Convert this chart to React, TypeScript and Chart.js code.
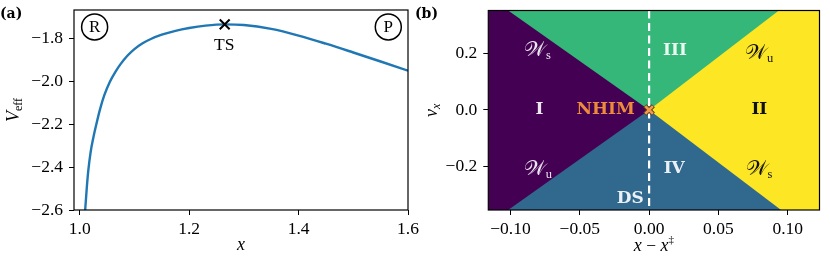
import React, { useEffect, useRef } from 'react';
import { Chart, registerables } from 'chart.js';

Chart.register(...registerables);

// ---------- Panel (a): effective potential ----------
const CURVE_X = [1.007, 1.010, 1.013, 1.016, 1.020, 1.025, 1.030, 1.037, 1.045, 1.055, 1.065, 1.075, 1.088, 1.100, 1.115, 1.130, 1.150, 1.175, 1.200, 1.230, 1.265, 1.300, 1.350, 1.400, 1.450, 1.500, 1.550, 1.600];
const CURVE_V = [-2.720, -2.600, -2.495, -2.410, -2.330, -2.262, -2.205, -2.132, -2.065, -2.003, -1.957, -1.919, -1.879, -1.850, -1.823, -1.803, -1.783, -1.765, -1.752, -1.741, -1.735, -1.738, -1.756, -1.787, -1.825, -1.866, -1.908, -1.951];
const TS_X = [1.265];
const TS_V = [-1.735];
const A_X_RANGE = [0.9896, 1.6];
const A_Y_RANGE = [-2.6, -1.668];
const A_X_TICKS = [1.0, 1.2, 1.4, 1.6];
const A_Y_TICKS = [-2.6, -2.4, -2.2, -2.0, -1.8];

// ---------- Panel (b): phase-space regions ----------
const B_X_RANGE = [-0.116, 0.1229];
const B_Y_RANGE = [-0.355, 0.353];
const B_X_TICKS = [-0.1, -0.05, 0, 0.05, 0.1];
const B_Y_TICKS = [-0.2, 0, 0.2];
const UPPER_EDGE_X = [-0.1017, 0, 0.0936];
const UPPER_EDGE_V = [0.353, 0, 0.353];
const LOWER_EDGE_X = [-0.1017, 0, 0.0952];
const LOWER_EDGE_V = [-0.355, 0, -0.355];
const NHIM_X = [0];
const NHIM_V = [0];
const DS_X = [0, 0];
const DS_V = [0.353, -0.355];

const C_PURPLE = '#440154';
const C_BLUE = '#31688e';
const C_GREEN = '#35b779';
const C_YELLOW = '#fde725';
const C_ORANGE = '#ec8b3c';

const SERIF = "'Liberation Serif', 'DejaVu Serif', serif";
const BSERIF = "'DejaVu Serif', 'Liberation Serif', serif";
const SCRIPT = "'DejaVu Serif', 'DejaVu Sans', 'Noto Sans', serif";

type Part = { t: string; font: string; dy?: number };

function drawParts(ctx: CanvasRenderingContext2D, parts: Part[], cx: number, cy: number, color: string, rot = 0) {
  ctx.save();
  ctx.translate(cx, cy);
  ctx.rotate(rot);
  ctx.textBaseline = 'middle';
  ctx.textAlign = 'left';
  let total = 0;
  for (const p of parts) {
    ctx.font = p.font;
    total += ctx.measureText(p.t).width;
  }
  let x = -total / 2;
  ctx.fillStyle = color;
  for (const p of parts) {
    ctx.font = p.font;
    ctx.fillText(p.t, x, p.dy || 0);
    x += ctx.measureText(p.t).width;
  }
  ctx.restore();
}

const fmt = (v: number, d: number) => {
  const s = (Math.abs(v) < 1e-9 ? 0 : v).toFixed(d);
  return s.replace('-', '\u2212');
};

function axisOpts(range: number[], ticks: number[], digits: number, isX: boolean, size: number) {
  return {
    type: 'linear' as const,
    min: range[0],
    max: range[1],
    afterBuildTicks: (s: any) => {
      s.ticks = ticks.map((v) => ({ value: v }));
    },
    afterFit: (s: any) => {
      if (isX) s.height = size;
      else s.width = size;
      s.paddingLeft = 0;
      s.paddingRight = 0;
      s.paddingTop = 0;
      s.paddingBottom = 0;
    },
    grid: { drawOnChartArea: false, drawTicks: true, tickLength: 5, color: '#000', lineWidth: 1 },
    border: { display: false },
    ticks: {
      autoSkip: false,
      maxRotation: 0,
      minRotation: 0,
      padding: isX ? 4 : 6,
      color: '#000',
      font: { family: SERIF, size: 17.5 },
      callback: (v: any) => fmt(Number(v), digits),
    },
  };
}

function frame(chart: any) {
  const { ctx, chartArea: a } = chart;
  ctx.save();
  ctx.strokeStyle = '#000';
  ctx.lineWidth = 1.2;
  ctx.strokeRect(a.left, a.top, a.right - a.left, a.bottom - a.top);
  ctx.restore();
}

const xy = (xs: number[], ys: number[]) => xs.map((x, i) => ({ x, y: ys[i] }));

function configA(): any {
  const annot = {
    id: 'annotA',
    afterDraw(chart: any) {
      const { ctx, chartArea: a, scales } = chart;
      const sx = scales.x, sy = scales.y;
      frame(chart);
      const circ = [
        { t: 'R', x: 1.0273, y: -1.747 },
        { t: 'P', x: 1.564, y: -1.747 },
      ];
      for (const c of circ) {
        const px = sx.getPixelForValue(c.x), py = sy.getPixelForValue(c.y);
        ctx.save();
        ctx.beginPath();
        ctx.arc(px, py, 13, 0, Math.PI * 2);
        ctx.lineWidth = 1.5;
        ctx.strokeStyle = '#000';
        ctx.stroke();
        ctx.restore();
        drawParts(ctx, [{ t: c.t, font: `17px ${SERIF}` }], px, py + 0.5, '#000');
      }
      drawParts(ctx, [{ t: 'TS', font: `17.5px ${SERIF}` }], sx.getPixelForValue(1.264), sy.getPixelForValue(-1.831), '#000');
      drawParts(ctx, [{ t: 'x', font: `italic 18px ${SERIF}` }], (a.left + a.right) / 2, 245, '#000');
      drawParts(
        ctx,
        [
          { t: 'V', font: `italic 18px ${SERIF}` },
          { t: 'eff', font: `12px ${SERIF}`, dy: 5 },
        ],
        14,
        (a.top + a.bottom) / 2,
        '#000',
        -Math.PI / 2
      );
      ctx.save();
      ctx.font = `bold 14px ${BSERIF}`;
      ctx.fillStyle = '#000';
      ctx.textBaseline = 'middle';
      ctx.textAlign = 'left';
      ctx.fillText('(a)', 0, 14);
      ctx.restore();
    },
  };
  return {
    type: 'line',
    data: {
      datasets: [
        {
          data: xy(TS_X, TS_V),
          showLine: false,
          pointStyle: 'crossRot',
          pointRadius: 7,
          pointBorderWidth: 2,
          pointBorderColor: '#000',
          order: 0,
        },
        {
          data: xy(CURVE_X, CURVE_V),
          borderColor: '#1f77b4',
          borderWidth: 2.4,
          pointRadius: 0,
          cubicInterpolationMode: 'monotone',
          fill: false,
          order: 1,
        },
      ],
    },
    options: {
      animation: false,
      responsive: false,
      events: [],
      layout: { padding: { left: 0, right: 22, top: 10, bottom: 0 } },
      plugins: { legend: { display: false }, tooltip: { enabled: false } },
      scales: {
        x: axisOpts(A_X_RANGE, A_X_TICKS, 1, true, 46),
        y: axisOpts(A_Y_RANGE, A_Y_TICKS, 1, false, 74),
      },
    },
    plugins: [annot],
  };
}

function configB(): any {
  const white = 'rgba(255,255,255,0.9)';
  const black = '#111';
  const annot = {
    id: 'annotB',
    afterDraw(chart: any) {
      const { ctx, chartArea: a, scales } = chart;
      const sx = scales.x, sy = scales.y;
      frame(chart);
      const P = (x: number, y: number) => [sx.getPixelForValue(x), sy.getPixelForValue(y)];
      const bold = `bold 17px ${BSERIF}`;
      const W = (sub: string) => [
        { t: '\u{1D4B2}', font: `21px ${SCRIPT}` },
        { t: sub, font: `12.5px ${SERIF}`, dy: 5 },
      ];
      const labels: { parts: Part[]; x: number; y: number; c: string }[] = [
        { parts: W('s'), x: -0.0805, y: 0.211, c: white },
        { parts: [{ t: 'III', font: bold }], x: 0.0186, y: 0.211, c: white },
        { parts: W('u'), x: 0.0793, y: 0.2, c: black },
        { parts: [{ t: 'I', font: bold }], x: -0.079, y: 0, c: white },
        { parts: [{ t: 'NHIM', font: bold }], x: -0.0314, y: 0, c: C_ORANGE },
        { parts: [{ t: 'II', font: bold }], x: 0.0795, y: 0, c: black },
        { parts: W('u'), x: -0.0803, y: -0.213, c: white },
        { parts: [{ t: 'IV', font: bold }], x: 0.0181, y: -0.207, c: white },
        { parts: W('s'), x: 0.0793, y: -0.213, c: black },
        { parts: [{ t: 'DS', font: bold }], x: -0.0136, y: -0.314, c: white },
      ];
      for (const l of labels) {
        const [px, py] = P(l.x, l.y);
        drawParts(ctx, l.parts, px, py, l.c);
      }
      drawParts(
        ctx,
        [
          { t: 'x', font: `italic 18px ${SERIF}` },
          { t: ' \u2212 ', font: `17.5px ${SERIF}` },
          { t: 'x', font: `italic 18px ${SERIF}` },
          { t: '\u2021', font: `11px ${SERIF}`, dy: -6 },
        ],
        (a.left + a.right) / 2,
        246,
        '#000'
      );
      drawParts(
        ctx,
        [
          { t: 'v', font: `italic 18px ${SERIF}` },
          { t: 'x', font: `italic 12px ${SERIF}`, dy: 5 },
        ],
        17,
        (a.top + a.bottom) / 2,
        '#000',
        -Math.PI / 2
      );
      ctx.save();
      ctx.font = `bold 14px ${BSERIF}`;
      ctx.fillStyle = '#000';
      ctx.textBaseline = 'middle';
      ctx.textAlign = 'left';
      ctx.fillText('(b)', 0, 14);
      ctx.restore();
    },
  };
  const region = (data: any[], color: string, fill: string, order: number) => ({
    data,
    borderColor: 'transparent',
    borderWidth: 0,
    backgroundColor: color,
    pointRadius: 0,
    fill,
    order,
  });
  return {
    type: 'line',
    data: {
      datasets: [
        region(xy([B_X_RANGE[0] - 0.01, 0], [B_Y_RANGE[1], B_Y_RANGE[1]]), C_PURPLE, 'start', 10),
        region(xy([0, B_X_RANGE[1] + 0.01], [B_Y_RANGE[1], B_Y_RANGE[1]]), C_YELLOW, 'start', 10),
        region(xy(UPPER_EDGE_X, UPPER_EDGE_V), C_GREEN, 'end', 6),
        region(xy(LOWER_EDGE_X, LOWER_EDGE_V), C_BLUE, 'start', 6),
        {
          data: xy(DS_X, DS_V),
          borderColor: '#ffffff',
          borderWidth: 2.2,
          borderDash: [8, 4.5],
          pointRadius: 0,
          fill: false,
          order: 3,
        },
        {
          data: xy(NHIM_X, NHIM_V),
          showLine: false,
          pointStyle: 'crossRot',
          pointRadius: 6,
          pointBorderWidth: 4.5,
          pointBorderColor: '#5a3a1a',
          order: 2,
        },
        {
          data: xy(NHIM_X, NHIM_V),
          showLine: false,
          pointStyle: 'crossRot',
          pointRadius: 5.4,
          pointBorderWidth: 2.6,
          pointBorderColor: '#f39a4c',
          order: 1,
        },
      ],
    },
    options: {
      animation: false,
      responsive: false,
      events: [],
      layout: { padding: { left: 0, right: 7.5, top: 10, bottom: 0 } },
      plugins: { legend: { display: false }, tooltip: { enabled: false } },
      scales: {
        x: axisOpts(B_X_RANGE, B_X_TICKS, 2, true, 46),
        y: axisOpts(B_Y_RANGE, B_Y_TICKS, 1, false, 73.3),
      },
    },
    plugins: [annot],
  };
}

export default function App() {
  const refA = useRef<HTMLCanvasElement>(null);
  const refB = useRef<HTMLCanvasElement>(null);
  useEffect(() => {
    const a = new Chart(refA.current!, configA());
    const b = new Chart(refB.current!, configB());
    return () => {
      a.destroy();
      b.destroy();
    };
  }, []);
  return (
    <div style={{ position: 'absolute', left: 0, top: 0, width: 830, height: 256, background: '#fff', overflow: 'hidden' }}>
      <canvas ref={refA} width={430} height={256} style={{ position: 'absolute', left: 0, top: 0 }} />
      <canvas ref={refB} width={415} height={256} style={{ position: 'absolute', left: 415, top: 0 }} />
    </div>
  );
}
